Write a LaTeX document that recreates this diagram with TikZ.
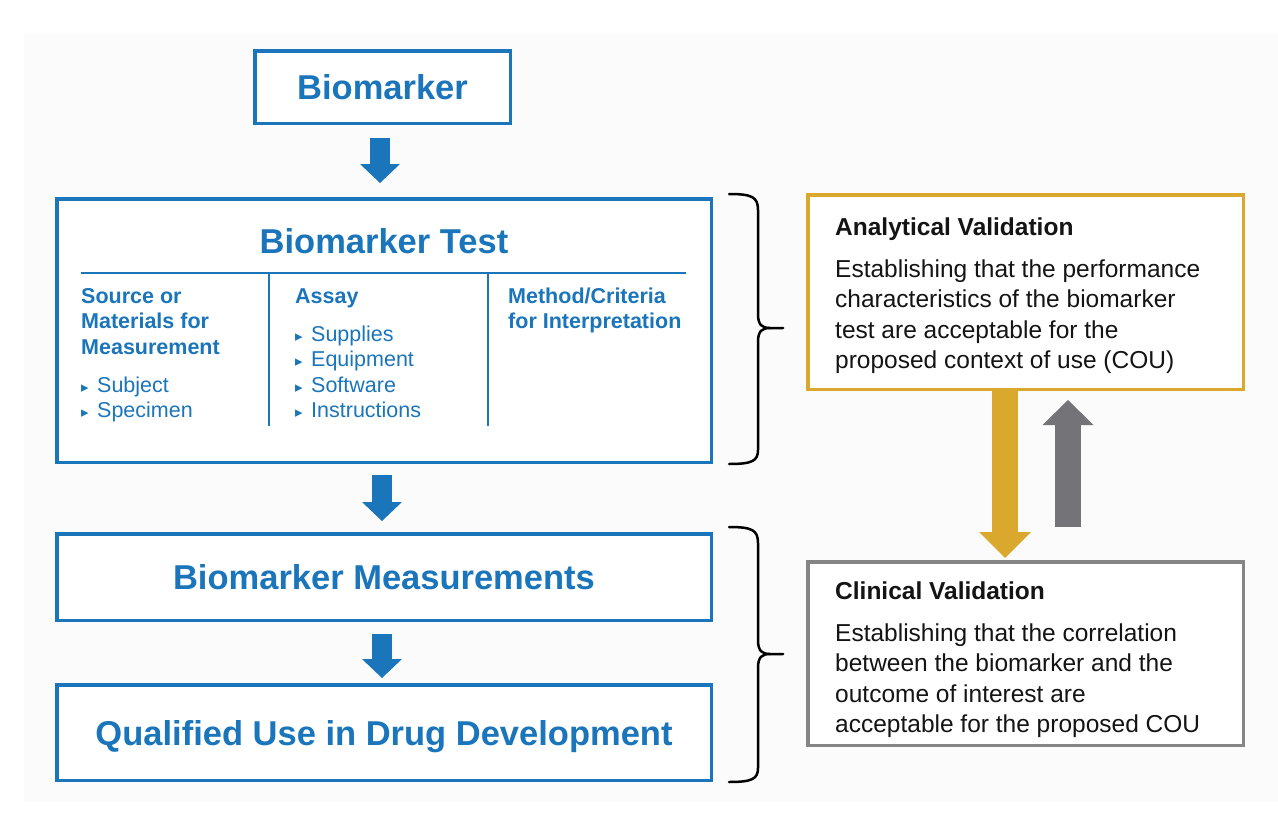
\documentclass[tikz,border=0pt]{standalone}
\usepackage{fontspec}
\setmainfont{Liberation Sans}
\newfontfamily\dejavu{DejaVu Sans}
\usetikzlibrary{arrows.meta,calc}
\definecolor{bmblue}{RGB}{27,117,187}
\definecolor{bmgold}{RGB}{218,168,44}
\definecolor{bmgray}{RGB}{133,133,133}
\definecolor{bmarrowgray}{RGB}{115,115,120}
\definecolor{bgc}{RGB}{251,251,251}
\definecolor{txt}{RGB}{20,20,20}
\newcommand{\bmtri}{\makebox[16pt][l]{\dejavu\fontsize{15}{15}\selectfont ▸}}
\begin{document}
\begin{tikzpicture}[x=1pt,y=-1pt,
  box/.style={draw, line width=3.5pt, inner sep=0pt, fill=white},
  bluebox/.style={box, draw=bmblue},
  titletext/.style={font=\bfseries\fontsize{34.5}{40}\selectfont, text=bmblue, inner sep=0pt},
  coltext/.style={font=\bfseries\fontsize{21.5}{25.5}\selectfont, text=bmblue, anchor=base west, inner sep=0pt},
  itemtext/.style={font=\fontsize{21.5}{25.5}\selectfont, text=bmblue, anchor=base west, inner sep=0pt},
  rtitle/.style={font=\bfseries\fontsize{24.5}{30}\selectfont, text=txt, anchor=base west, inner sep=0pt},
  rbody/.style={font=\fontsize{24.5}{30}\selectfont, text=txt, anchor=base west, inner sep=0pt},
  divider/.style={draw=bmblue, line width=2pt},
  bracket/.style={draw=black, line width=2.5pt, line cap=round, line join=round},
  bluearrow/.style={draw=bmblue, line width=20pt, -{Triangle[width=40pt,length=19pt,line width=0pt]}},
  goldarrow/.style={draw=bmgold, line width=26pt, -{Triangle[width=52pt,length=26pt,line width=0pt]}},
  grayarrow/.style={draw=bmarrowgray, line width=26pt, -{Triangle[width=51pt,length=25pt,line width=0pt]}}
]
\useasboundingbox (0,0) rectangle (1278,827);
\fill[white] (0,0) rectangle (1278,827);
\fill[bgc] (24,33) rectangle (1278,802);

% left column boxes
\node[bluebox, minimum width=255.5pt, minimum height=72.5pt] (bio) at (382.5,87) {};
\node[titletext, anchor=base] (biot) at (382.5,99) {Biomarker};

\node[bluebox, minimum width=654.5pt, minimum height=263.5pt] (test) at (384,330.5) {};
\node[titletext, anchor=base] (testt) at (384,253) {Biomarker Test};

\node[bluebox, minimum width=654.5pt, minimum height=86.5pt] (meas) at (384,577) {};
\node[titletext, anchor=base] (meast) at (384,589.5) {Biomarker Measurements};

\node[bluebox, minimum width=654.5pt, minimum height=95.5pt] (qual) at (384,732.5) {};
\node[titletext, anchor=base] (qualt) at (384,745) {Qualified Use in Drug Development};

% inner structure of Biomarker Test
\draw[divider] (81,273) -- (686,273);
\draw[divider] (269,273) -- (269,426);
\draw[divider] (488,273) -- (488,426);

\node[coltext] (c1a) at (81,303) {Source or};
\node[coltext] (c1b) at (81,328.5) {Materials for};
\node[coltext] (c1c) at (81,354) {Measurement};
\node[itemtext] (c1d) at (81,392) {\bmtri Subject};
\node[itemtext] (c1e) at (81,417.5) {\bmtri Specimen};

\node[coltext] (c2a) at (295,303) {Assay};
\node[itemtext] (c2b) at (295,341) {\bmtri Supplies};
\node[itemtext] (c2c) at (295,366.5) {\bmtri Equipment};
\node[itemtext] (c2d) at (295,392) {\bmtri Software};
\node[itemtext] (c2e) at (295,417.5) {\bmtri Instructions};

\node[coltext] (c3a) at (508,303) {Method/Criteria};
\node[coltext] (c3b) at (508,328.5) {for Interpretation};

% right boxes
\node[box, draw=bmgold, minimum width=435.5pt, minimum height=194.5pt] (ana) at (1025.5,292) {};
\node[rtitle] (anat) at (835,235) {Analytical Validation};
\node[rbody] (anab1) at (835,277) {Establishing that the performance};
\node[rbody] (anab2) at (835,307.5) {characteristics of the biomarker};
\node[rbody] (anab3) at (835,338) {test are acceptable for the};
\node[rbody] (anab4) at (835,368.5) {proposed context of use (COU)};

\node[box, draw=bmgray, minimum width=435.5pt, minimum height=183.5pt] (cli) at (1025.5,653.5) {};
\node[rtitle] (clit) at (835,599) {Clinical Validation};
\node[rbody] (clib1) at (835,641) {Establishing that the correlation};
\node[rbody] (clib2) at (835,671) {between the biomarker and the};
\node[rbody] (clib3) at (835,702) {outcome of interest are};
\node[rbody] (clib4) at (835,732) {acceptable for the proposed COU};

% blue flow arrows
\coordinate (a1s) at ($(bio.south)+(-2.5,13)$);
\draw[bluearrow] (a1s) -- ($(a1s |- test.north)+(0,-14)$);
\coordinate (a2s) at ($(test.south)+(-2,11)$);
\draw[bluearrow] (a2s) -- ($(a2s |- meas.north)+(0,-11)$);
\coordinate (a3s) at ($(meas.south)+(-2,12)$);
\draw[bluearrow] (a3s) -- ($(a3s |- qual.north)+(0,-5)$);

% validation arrows
\coordinate (g1s) at ($(ana.south)+(-20.5,-2)$);
\draw[goldarrow] (g1s) -- ($(g1s |- cli.north)+(0,-2)$);
\coordinate (g2s) at ($(cli.north)+(42.5,-33)$);
\draw[grayarrow] (g2s) -- ($(g2s |- ana.south)+(0,9)$);

% braces
\draw[bracket] (729,194) .. controls (752,194) and (758,197) .. (758,210)
  -- (758,314) .. controls (758,325) and (762,328) .. (770,328) -- (783,328);
\draw[bracket] (770,328) .. controls (762,328) and (758,331) .. (758,342)
  -- (758,450) .. controls (758,461) and (752,464) .. (729,464);

\draw[bracket] (729,527) .. controls (752,527) and (758,530) .. (758,543)
  -- (758,640) .. controls (758,651) and (762,654) .. (770,654) -- (783,654);
\draw[bracket] (770,654) .. controls (762,654) and (758,657) .. (758,668)
  -- (758,768) .. controls (758,779) and (752,782) .. (729,782);
\end{tikzpicture}
\end{document}
